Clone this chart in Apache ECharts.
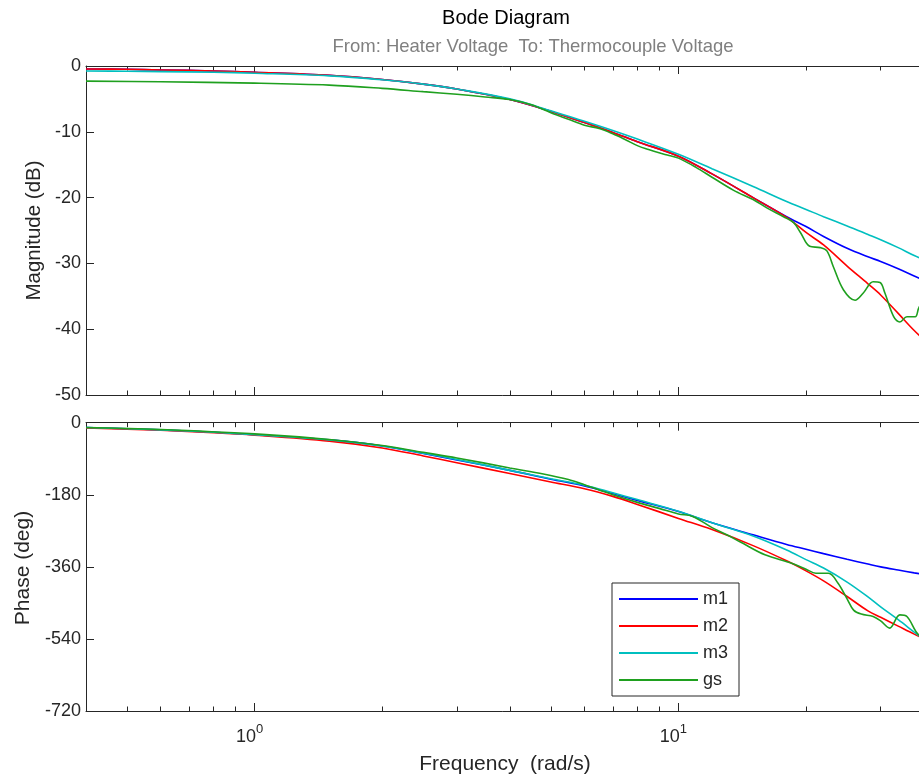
<!DOCTYPE html>
<html><head><meta charset="utf-8">
<script src="https://cdn.jsdelivr.net/npm/echarts@6/dist/echarts.min.js"></script>
<style>html,body{margin:0;padding:0;background:#fff}#c{width:919px;height:779px}</style>
</head><body><div id="c"></div>
<script>
// ---- data ----
const freqModel = [0.4, 0.5, 0.6, 0.8, 1, 1.5, 2, 2.5, 3, 4, 5, 6, 7, 8, 10, 12, 15, 18, 20, 22, 25, 28, 30, 33, 36, 40];
const m1Mag = [-0.45, -0.5, -0.6, -0.75, -0.95, -1.4, -2.05, -2.75, -3.5, -5.1, -6.9, -8.6, -10.1, -11.5, -13.7, -16.4, -20.0, -22.9, -24.4, -25.9, -27.7, -29.0, -29.7, -30.8, -31.9, -33.2];
const m2Mag = [-0.45, -0.5, -0.6, -0.75, -0.95, -1.4, -2.05, -2.75, -3.5, -5.1, -6.9, -8.6, -10.1, -11.5, -13.7, -16.4, -20.0, -23.0, -25.3, -27.2, -30.4, -33.1, -34.8, -37.6, -40.2, -43.0];
const m3Mag = [-0.75, -0.8, -0.85, -0.95, -1.1, -1.5, -2.1, -2.75, -3.5, -5.0, -6.8, -8.4, -9.8, -11.1, -13.4, -15.6, -18.3, -20.6, -21.8, -22.9, -24.3, -25.6, -26.4, -27.6, -28.8, -30.1];
const m1Phase = [-12, -15, -18, -24, -30, -43, -58, -77, -93, -119, -141, -158, -177, -194, -222, -250, -280, -304, -316, -327, -341, -353, -360, -368, -375, -383];
const m2Phase = [-13, -16, -19, -25, -31, -46, -63, -83, -100, -127, -148, -165, -184, -204, -239, -267, -307, -345, -370, -395, -434, -470, -486, -508, -528, -550];
const m3Phase = [-12, -15, -18, -24, -30, -43, -58, -76, -92, -119, -140, -156, -175, -192, -221, -250, -283, -318, -342, -363, -398, -435, -460, -492, -523, -560];
const freqGsMag = [0.4, 0.6, 1, 1.5, 2, 2.5, 3, 3.5, 4, 4.5, 5, 5.5, 6, 6.5, 7, 7.5, 8, 8.5, 9, 9.5, 10, 11, 12, 13.5, 15, 16.2, 17.7, 18.7, 19.4, 20.4, 21.6, 22.4, 23.2, 24.5, 26.1, 27.3, 28.8, 29.9, 30.7, 32.2, 33.3, 34.6, 36.2, 37, 40];
const gsMag = [-2.3, -2.4, -2.6, -2.9, -3.4, -3.9, -4.3, -4.7, -5.1, -5.9, -7.1, -8.1, -9.0, -9.5, -10.3, -11.2, -12.1, -12.7, -13.2, -13.6, -14.0, -15.4, -16.9, -18.9, -20.3, -21.6, -22.9, -23.8, -25.3, -27.4, -27.6, -28.1, -30.5, -34.0, -35.6, -34.5, -32.8, -32.9, -34.5, -38.1, -38.9, -38.1, -38.1, -36.6, -34.0];
const freqGsPhase = [0.4, 0.6, 1, 1.5, 2, 2.5, 3, 4, 4.8, 5.5, 6, 6.5, 7, 8, 9, 10, 10.8, 12, 13, 14, 16, 18.5, 20, 21.1, 22.6, 23.8, 25, 25.9, 27, 28.8, 30, 31.5, 33.3, 34.6, 36.9, 40];
const gsPhase = [-12, -17, -28, -42, -57, -74, -88, -113, -128, -142, -155, -168, -180, -199, -214, -228, -234, -262, -280, -298, -330, -351, -366, -376, -376, -401, -440, -468, -478, -484, -495, -513, -480, -484, -530, -545];
const seriesNames = ['m1', 'm2', 'm3', 'gs'];
const seriesColors = ['#0000ff', '#ff0000', '#00bfbf', '#1fa01f'];
const majorTicks = [1, 10];
const minorTicks = [0.4, 0.5, 0.6, 0.7, 0.8, 0.9, 2, 3, 4, 5, 6, 7, 8, 9, 20, 30, 40];
const xRange = [0.4, 40];
const magRange = [-50, 0], magStep = 10;
const phaseRange = [-720, 0], phaseStep = 180;

// ---- chart ----
const FONT = 'Liberation Sans';
const INK = '#262626';
const pairs = (xs, ys) => xs.map((x, i) => [x, ys[i]]);

function xAx(grid, pos, ticks, len, line, label) {
  return {
    type: 'log', logBase: 10, gridIndex: grid, position: pos, min: xRange[0], max: xRange[1],
    axisLine: { show: line, onZero: false, lineStyle: { color: INK, width: 1 } },
    axisTick: { show: true, inside: true, length: len, customValues: ticks, lineStyle: { color: INK, width: 1 } },
    axisLabel: {
      show: label, customValues: majorTicks, margin: 12, padding: [0, 10, 0, 0],
      formatter: v => '{b|10}{s|' + Math.round(Math.log10(v)) + '}',
      rich: {
        b: { fontSize: 18, fontFamily: FONT, color: INK, verticalAlign: 'bottom' },
        s: { fontSize: 13, fontFamily: FONT, color: INK, verticalAlign: 'bottom', padding: [0, 0, 10, 0] }
      }
    },
    splitLine: { show: false }, minorTick: { show: false }, minorSplitLine: { show: false }
  };
}
function yAx(grid, range, step) {
  return {
    type: 'value', gridIndex: grid, min: range[0], max: range[1], interval: step,
    axisLine: { show: true, onZero: false, lineStyle: { color: INK, width: 1 } },
    axisTick: { show: true, inside: true, length: 8, lineStyle: { color: INK } },
    axisLabel: { margin: 5, fontSize: 18, fontFamily: FONT, color: INK },
    splitLine: { show: false }
  };
}

const series = [];
const magData = [pairs(freqModel, m1Mag), pairs(freqModel, m2Mag), pairs(freqModel, m3Mag), pairs(freqGsMag, gsMag)];
const phData = [pairs(freqModel, m1Phase), pairs(freqModel, m2Phase), pairs(freqModel, m3Phase), pairs(freqGsPhase, gsPhase)];
seriesNames.forEach((n, i) => {
  series.push({ name: n, type: 'line', xAxisIndex: 0, yAxisIndex: 0, data: magData[i], color: seriesColors[i],
    symbol: 'none', smooth: 0.35, lineStyle: { width: 1.6, color: seriesColors[i] } });
});
seriesNames.forEach((n, i) => {
  series.push({ name: n, type: 'line', xAxisIndex: 4, yAxisIndex: 1, data: phData[i], color: seriesColors[i],
    symbol: 'none', smooth: 0.35, lineStyle: { width: 1.6, color: seriesColors[i] } });
});

const chart = echarts.init(document.getElementById('c'), null, { renderer: 'canvas' });
chart.setOption({
  animation: false,
  backgroundColor: '#fff',
  grid: [
    { left: 86, top: 66, width: 847.6, height: 329, outerBoundsMode: 'none', containLabel: false },
    { left: 86, top: 422.7, width: 847.6, height: 288.3, outerBoundsMode: 'none', containLabel: false }
  ],
  xAxis: [
    xAx(0, 'bottom', majorTicks, 8, true, false),
    xAx(0, 'bottom', minorTicks, 4.5, false, false),
    xAx(0, 'top', majorTicks, 8, true, false),
    xAx(0, 'top', minorTicks, 4.5, false, false),
    xAx(1, 'bottom', majorTicks, 8, true, true),
    xAx(1, 'bottom', minorTicks, 4.5, false, false),
    xAx(1, 'top', majorTicks, 8, true, false),
    xAx(1, 'top', minorTicks, 4.5, false, false)
  ],
  yAxis: [yAx(0, magRange, magStep), yAx(1, phaseRange, phaseStep)],
  legend: {
    data: seriesNames, orient: 'vertical', left: 612, top: 583,
    padding: [7, 11, 7, 7], itemWidth: 79, itemHeight: 2, itemGap: 9, icon: 'rect',
    borderColor: INK, borderWidth: 1, backgroundColor: '#fff',
    textStyle: { fontSize: 18, lineHeight: 18, fontFamily: FONT, color: INK }
  },
  graphic: [
    { type: 'text', x: 506, y: 18, style: { text: 'Bode Diagram', fontSize: 20, fontFamily: FONT, fill: '#000', align: 'center', verticalAlign: 'middle' } },
    { type: 'text', x: 533, y: 47, style: { text: 'From: Heater Voltage  To: Thermocouple Voltage', fontSize: 18.5, fontFamily: FONT, fill: '#808080', align: 'center', verticalAlign: 'middle' } },
    { type: 'text', x: 505, y: 764, style: { text: 'Frequency  (rad/s)', fontSize: 21, fontFamily: FONT, fill: INK, align: 'center', verticalAlign: 'middle' } },
    { type: 'text', x: 34, y: 230.5, rotation: Math.PI / 2, style: { text: 'Magnitude (dB)', fontSize: 20.5, fontFamily: FONT, fill: INK, align: 'center', verticalAlign: 'middle' } },
    { type: 'text', x: 23, y: 568, rotation: Math.PI / 2, style: { text: 'Phase (deg)', fontSize: 21, fontFamily: FONT, fill: INK, align: 'center', verticalAlign: 'middle' } }
  ],
  series: series
});
</script></body></html>
